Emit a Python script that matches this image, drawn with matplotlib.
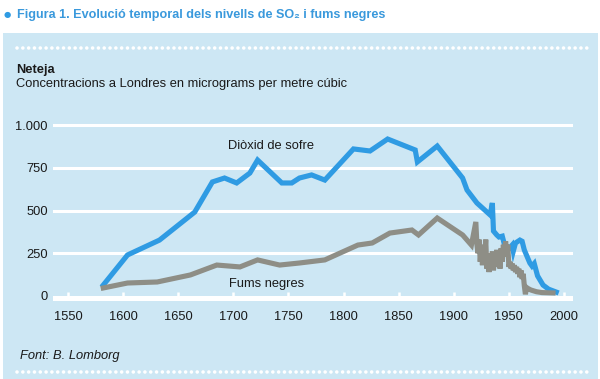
import matplotlib
matplotlib.use('Agg')
import matplotlib.pyplot as plt
from matplotlib.patches import Rectangle
from matplotlib.lines import Line2D

plt.rcParams['font.family'] = ['Liberation Sans', 'DejaVu Sans']

# Dades llegides del gràfic (micrograms per metre cúbic)
anys_so2 = [1582, 1604, 1633, 1665, 1681, 1692, 1703, 1715, 1722, 1744, 1753, 1760,
            1771, 1783, 1809, 1824, 1840, 1865, 1867, 1885, 1908, 1912, 1921, 1933,
            1935, 1936, 1939, 1941, 1944, 1946, 1949, 1953, 1954, 1956, 1960, 1962,
            1964, 1969, 1971, 1973, 1976, 1981, 1986, 1993]
so2 = [64, 240, 327, 491, 667, 690, 661, 719, 795, 661, 661, 690,
       708, 678, 860, 848, 918, 854, 784, 877, 690, 620, 544, 474,
       544, 380, 357, 345, 350, 300, 269, 298, 262, 310, 327, 320,
       269, 193, 175, 190, 118, 64, 40, 23]

anys_fums = [1582, 1604, 1631, 1661, 1685, 1706, 1722, 1742, 1760, 1783, 1813, 1826,
             1842, 1862, 1868, 1885, 1908, 1916, 1920, 1921, 1922, 1923, 1924, 1925,
             1926, 1927, 1928, 1929, 1930, 1931, 1932, 1933, 1934, 1935, 1936, 1937,
             1938, 1939, 1940, 1941, 1942, 1943, 1944, 1945, 1946, 1947, 1948, 1949,
             1950, 1951, 1952, 1953, 1954, 1955, 1956, 1957, 1958, 1959, 1960, 1961,
             1962, 1963, 1964, 1965, 1966, 1967, 1970, 1975, 1980, 1990]
fums = [47, 76, 82, 123, 181, 170, 211, 181, 193, 211, 298, 310,
        368, 386, 357, 456, 357, 298, 433, 300, 250, 330, 200, 290,
        180, 300, 230, 330, 160, 250, 140, 230, 180, 260, 150, 250,
        200, 270, 170, 240, 160, 280, 200, 300, 230, 320, 250, 300,
        170, 200, 160, 190, 150, 180, 140, 170, 130, 160, 110, 150,
        100, 130, 60, 10, 50, 45, 35, 25, 20, 18]

y_ticks = [0, 250, 500, 750, 1000]
y_labels = ['0', '250', '500', '750', '1.000']
x_ticks = list(range(1550, 2001, 50))

W, H = 600, 379
blau = '#2f9be3'
gris = '#8e8e86'
fons = '#cde7f4'

fig = plt.figure(figsize=(6, 3.79), dpi=100)
fig.patch.set_facecolor('white')

def fx(px):
    return px / W

def fy(py):
    return 1 - py / H

# panell blau clar
fig.add_artist(Rectangle((fx(3), 0), fx(595), fy(33), transform=fig.transFigure,
                         facecolor=fons, edgecolor='none', zorder=0))

# línies de punts blancs
for yy in [48, 372]:
    fig.add_artist(Line2D([fx(17), fx(587)], [fy(yy), fy(yy)], transform=fig.transFigure,
                          color='white', lw=2.6, linestyle=(0, (0.01, 1.6)),
                          dash_capstyle='round', zorder=1))

# títol
fig.text(fx(7), fy(15), '●', color=blau, fontsize=6, ha='center', va='center',
         family=['DejaVu Sans'])
fig.text(fx(17), fy(15), 'Figura 1. Evolució temporal dels nivells de SO₂ i fums negres',
         color='#3a99dc', fontsize=9.1, fontweight='bold', ha='left', va='center')
fig.text(fx(16), fy(70), 'Neteja', fontsize=9.3, fontweight='bold', color='#1a1a1a',
         ha='left', va='center')
fig.text(fx(16), fy(84), 'Concentracions a Londres en micrograms per metre cúbic',
         fontsize=9.3, color='#1a1a1a', ha='left', va='center')
fig.text(fx(20), fy(356), 'Font: B. Lomborg', fontsize=9.3, style='italic', color='#1a1a1a',
         ha='left', va='center')

# eixos
ax_l, ax_r, ax_t, ax_b = 53, 573, 115, 305
ax = fig.add_axes([fx(ax_l), fy(ax_b), fx(ax_r - ax_l), (ax_b - ax_t) / H])
ax.set_facecolor('none')
for s in ax.spines.values():
    s.set_visible(False)

px_yr = 496 / 450
ax.set_xlim(1550 - 15 / px_yr, 2000 + 9 / px_yr)
ax.set_ylim((296 - ax_b) / 0.171, (296 - ax_t) / 0.171)

for v in y_ticks[1:]:
    ax.axhline(v, color='white', lw=2.2, zorder=1)
ax.axhspan(-30, -1, color='white', lw=0, zorder=1)
ax.vlines(x_ticks, -5, 23, color='white', lw=1.8, zorder=1)

ax.plot(anys_so2, so2, color=blau, lw=3.7, zorder=3, solid_joinstyle='miter')
ax.plot(anys_fums, fums, color=gris, lw=3.7, zorder=4, solid_joinstyle='miter')

ax.text(1695, 877, 'Diòxid de sofre', fontsize=9.3, color='#1a1a1a', ha='left', va='center')
ax.text(1696, 70, 'Fums negres', fontsize=9.3, color='#1a1a1a', ha='left', va='center')

ax.set_yticks(y_ticks, y_labels)
ax.set_xticks(x_ticks, [str(x) for x in x_ticks])
ax.tick_params(axis='both', length=0, labelsize=9.3, colors='#1a1a1a')
ax.tick_params(axis='y', pad=3.8)
ax.tick_params(axis='x', pad=4.5)

fig.savefig('out.png', dpi=100)
